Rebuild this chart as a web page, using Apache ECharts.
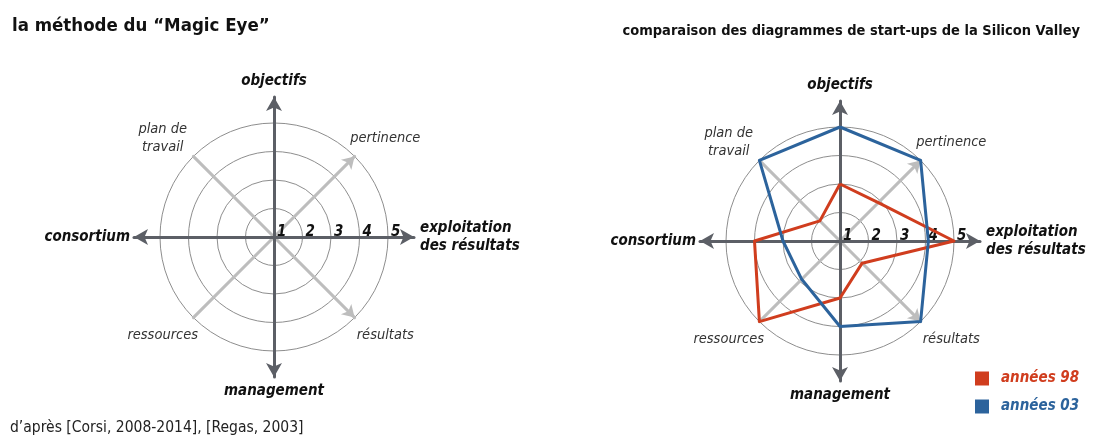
<!DOCTYPE html>
<html>
<head>
<meta charset="utf-8">
<script src="https://cdn.jsdelivr.net/npm/echarts@6/dist/echarts.min.js"></script>
<style>
  html, body { margin: 0; padding: 0; background: #fff; }
  #chart { width: 1102px; height: 448px; }
</style>
</head>
<body>
<div id="chart"></div>
<script>
// axes, counter-clockwise from the top (ECharts radar order)
const axes8 = ['objectifs', 'plan de\ntravail', 'consortium', 'ressources',
               'management', 'résultats', 'exploitation\ndes résultats', 'pertinence'];
const mainIdx = [0, 2, 4, 6];      // the four dark arrows
const tickLabels = ['1', '2', '3', '4', '5'];

const seriesNames = ['années 98', 'années 03'];
const annees98 = [3, 2, 4, 5, 3, 2.1, 5, 2.9];
const annees03 = [5, 5, 3, 2.9, 4, 5, 4.1, 5];

const FONT = "'Liberation Sans Narrow', 'DejaVu Sans Condensed', 'Noto Sans', sans-serif";
const RED = '#d03d1e';
const BLUE = '#2c639c';

var chart = echarts.init(document.getElementById('chart'));

// ring radar: circles, light diagonals, small labels and tick numbers
function ringRadar(center) {
    return {
        center: center,
        radius: 114,
        startAngle: 90,
        shape: 'circle',
        splitNumber: tickLabels.length - 1,
        axisNameGap: 25,
        axisName: { color: '#333', fontStyle: 'italic', fontFamily: FONT, fontSize: 14.5, lineHeight: 18 },
        axisLine: { lineStyle: { color: '#bdbdbd', width: 3 } },
        splitLine: { lineStyle: { color: '#8e8e8e', width: 1 } },
        splitArea: { show: false },
        axisTick: { show: false },
        axisLabel: { show: false },
        indicator: axes8.map(function (name, i) {
            var ind = { name: name, min: 1, max: 5 };
            if (mainIdx.indexOf(i) >= 0) {
                ind.name = '';
                ind.axisLine = { show: false };
            } else {
                var right = i === 5 || i === 7;
                ind.nameTextStyle = {
                    align: 'center', verticalAlign: 'middle',
                    padding: right ? [0, 0, 0, 26] : [0, 26, 0, 0]
                };
                if (right) {
                    ind.axisLine = { symbol: ['none', 'arrow'], symbolSize: [11, 12] };
                }
            }
            if (i === 6) {
                ind.axisLabel = {
                    show: true, color: '#111', fontWeight: 'bold', fontStyle: 'italic',
                    fontSize: 15, fontFamily: FONT, align: 'left', margin: -3,
                    padding: [0, 0, 0, 3],
                    formatter: function (v) { return tickLabels[Math.round(v) - 1]; }
                };
            }
            return ind;
        })
    };
}

// main axes: dark arrows with bold names
function arrowRadar(center) {
    return {
        center: center,
        radius: 140,
        startAngle: 90,
        shape: 'circle',
        splitNumber: 4,
        axisNameGap: 5,
        axisName: { color: '#111', fontWeight: 'bold', fontStyle: 'italic', fontSize: 15, fontFamily: FONT, lineHeight: 18 },
        axisLine: { symbol: ['none', 'arrow'], symbolSize: [12, 14], lineStyle: { color: '#5c5f66', width: 3 } },
        splitLine: { show: false },
        splitArea: { show: false },
        axisTick: { show: false },
        axisLabel: { show: false },
        indicator: mainIdx.map(function (i) {
            var ind = { name: axes8[i], min: 1, max: 5 };
            if (i === 0) ind.nameGap = 7;
            if (i === 2) ind.nameGap = 4;
            if (i === 6) ind.nameGap = 6;
            return ind;
        })
    };
}

var option = {
    backgroundColor: '#fff',
    animation: false,
    title: [
        { text: 'la méthode du “Magic Eye”', left: 12, top: 17, padding: 0,
          textStyle: { fontFamily: FONT, fontSize: 18.5, fontWeight: 'bold', color: '#111' } },
        { text: 'comparaison des diagrammes de start-ups de la Silicon Valley', right: 22, top: 24, padding: 0,
          textStyle: { fontFamily: FONT, fontSize: 14.5, fontWeight: 'bold', color: '#111' } },
        { text: 'd’après [Corsi, 2008-2014], [Regas, 2003]', left: 10, top: 420, padding: 0,
          textStyle: { fontFamily: FONT, fontSize: 15.5, fontWeight: 'normal', color: '#222' } }
    ],
    legend: {
        orient: 'vertical',
        left: 970,
        top: 366,
        icon: 'rect',
        itemWidth: 14,
        itemHeight: 14,
        itemGap: 13,
        textStyle: { fontFamily: FONT, fontSize: 15, fontWeight: 'bold', fontStyle: 'italic', padding: [0, 0, 0, 7] },
        data: [
            { name: seriesNames[0], textStyle: { color: RED } },
            { name: seriesNames[1], textStyle: { color: BLUE } }
        ]
    },
    radar: [
        ringRadar([274, 237]),
        arrowRadar([274, 237]),
        ringRadar([840, 241]),
        arrowRadar([840, 241])
    ],
    series: [{
        type: 'radar',
        radarIndex: 2,
        symbol: 'none',
        data: [
            { name: seriesNames[0], value: annees98, itemStyle: { color: RED }, lineStyle: { color: RED, width: 3 } },
            { name: seriesNames[1], value: annees03, itemStyle: { color: BLUE }, lineStyle: { color: BLUE, width: 3 } }
        ]
    }]
};

chart.setOption(option);
</script>
</body>
</html>
